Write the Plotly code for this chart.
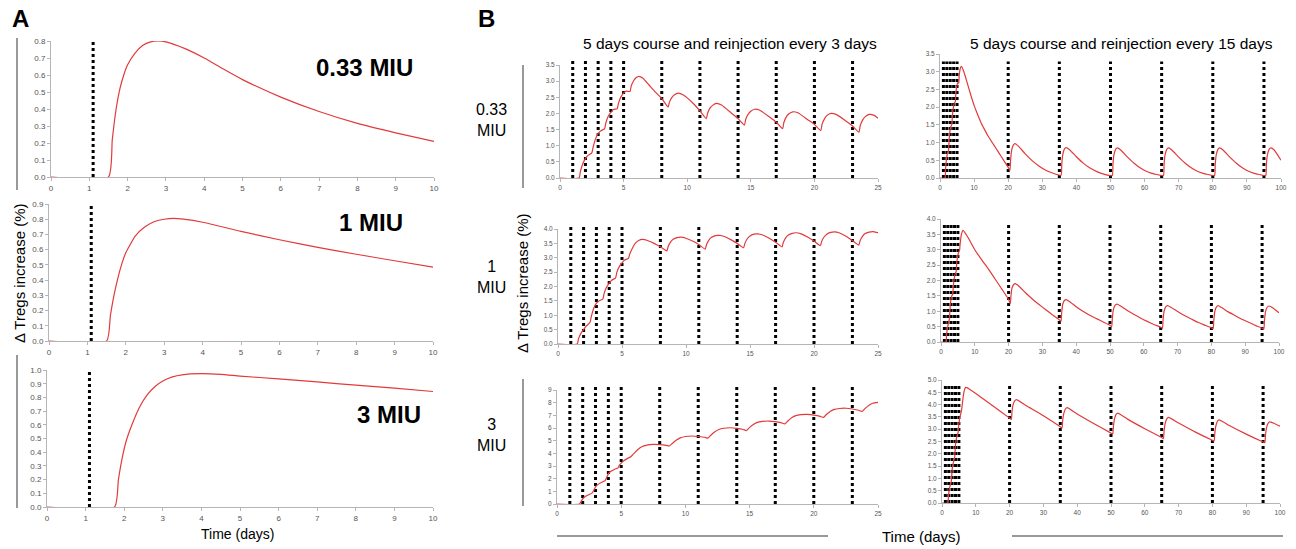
import plotly.graph_objects as go

W, H = 1296, 549

# ---------- panel A : single injection ----------
a_injection = [1.1]

a_days_033 = [0, 1.5, 1.6, 1.7, 1.8, 1.9, 2.0, 2.2, 2.4, 2.6, 2.8, 3.0, 3.5, 4, 4.5, 5, 6, 7, 8, 9, 10]
a_tregs_033 = [0, 0, 0.22, 0.4, 0.52, 0.6, 0.66, 0.73, 0.775, 0.795, 0.80, 0.795, 0.755, 0.70, 0.635, 0.573, 0.47, 0.385, 0.315, 0.26, 0.21]

a_days_1 = [0, 1.5, 1.6, 1.7, 1.8, 1.9, 2.0, 2.25, 2.5, 2.75, 3.0, 3.25, 3.5, 4, 5, 6, 7, 8, 9, 10]
a_tregs_1 = [0, 0, 0.17, 0.31, 0.42, 0.51, 0.58, 0.69, 0.75, 0.785, 0.80, 0.805, 0.80, 0.78, 0.72, 0.665, 0.615, 0.57, 0.527, 0.485]

a_days_3 = [0, 1.75, 1.85, 1.95, 2.05, 2.2, 2.4, 2.6, 2.8, 3.0, 3.25, 3.5, 4, 4.5, 5, 6, 7, 8, 9, 10]
a_tregs_3 = [0, 0, 0.2, 0.36, 0.48, 0.6, 0.73, 0.82, 0.88, 0.92, 0.95, 0.965, 0.973, 0.968, 0.956, 0.935, 0.913, 0.889, 0.867, 0.843]

# ---------- panel B : injection schedules ----------
b_inj_3days = [1, 2, 3, 4, 5, 8, 11, 14, 17, 20, 23]
b_inj_15days = [1, 2, 3, 4, 5, 20, 35, 50, 65, 80, 95]

b3_days_033 = [0, 1.5, 1.6, 1.8, 2.0, 2.2, 2.5, 2.6, 2.8, 3.0, 3.2, 3.5, 3.6, 3.8, 4.0, 4.2, 4.5, 4.6, 4.8, 5.0, 5.2, 5.5,
               5.6, 5.8, 6.0, 6.2, 6.5, 7.0, 7.5, 8.0, 8.5, 8.6, 8.8, 9.0, 9.3, 9.7, 10.5, 11.0, 11.5,
               11.6, 11.8, 12.0, 12.3, 12.7, 13.5, 14.0, 14.5, 14.6, 14.8, 15.0, 15.3, 15.7, 16.5, 17.0, 17.5,
               17.6, 17.8, 18.0, 18.3, 18.7, 19.5, 20.0, 20.5, 20.6, 20.8, 21.0, 21.3, 21.7, 22.5, 23.0, 23.5,
               23.6, 23.8, 24.0, 24.3, 24.7, 25.0]
b3_tregs_033 = [0, 0, 0.2, 0.45, 0.6, 0.7, 0.78, 0.95, 1.22, 1.38, 1.46, 1.52, 1.7, 1.92, 2.03, 2.12, 2.15, 2.32, 2.52, 2.63, 2.69, 2.68,
                2.85, 3.02, 3.11, 3.15, 3.1, 2.88, 2.66, 2.46, 2.2, 2.35, 2.5, 2.58, 2.63, 2.57, 2.3, 2.08, 1.84,
                2.0, 2.17, 2.25, 2.31, 2.26, 2.0, 1.84, 1.64, 1.82, 1.98, 2.07, 2.13, 2.1, 1.88, 1.73, 1.53,
                1.72, 1.9, 1.99, 2.05, 2.02, 1.8, 1.66, 1.47, 1.66, 1.84, 1.94, 2.0, 1.97, 1.76, 1.61, 1.42,
                1.62, 1.8, 1.9, 1.97, 1.94, 1.85]

b3_days_1 = [0, 1.5, 1.6, 1.8, 2.0, 2.2, 2.5, 2.6, 2.8, 3.0, 3.2, 3.5, 3.6, 3.8, 4.0, 4.2, 4.5, 4.6, 4.8, 5.0, 5.2, 5.5,
             5.6, 5.8, 6.0, 6.3, 6.6, 7.0, 7.5, 8.0, 8.5, 8.6, 8.8, 9.0, 9.3, 9.6, 10.0, 10.5, 11.0, 11.5,
             11.6, 11.8, 12.0, 12.3, 12.6, 13.0, 13.5, 14.0, 14.5, 14.6, 14.8, 15.0, 15.3, 15.6, 16.0, 16.5, 17.0, 17.5,
             17.6, 17.8, 18.0, 18.3, 18.6, 19.0, 19.5, 20.0, 20.5, 20.6, 20.8, 21.0, 21.3, 21.6, 22.0, 22.5, 23.0, 23.5,
             23.6, 23.8, 24.0, 24.3, 24.6, 25.0]
b3_tregs_1 = [0, 0, 0.18, 0.38, 0.5, 0.62, 0.75, 0.95, 1.25, 1.42, 1.5, 1.56, 1.75, 1.98, 2.12, 2.22, 2.3, 2.5, 2.7, 2.82, 2.92, 2.98,
              3.12, 3.32, 3.48, 3.6, 3.64, 3.6, 3.5, 3.38, 3.24, 3.38, 3.55, 3.64, 3.7, 3.72, 3.68, 3.58, 3.46, 3.3,
              3.45, 3.62, 3.71, 3.77, 3.78, 3.74, 3.63, 3.5, 3.35, 3.5, 3.67, 3.76, 3.82, 3.83, 3.79, 3.68, 3.54, 3.38,
              3.53, 3.7, 3.79, 3.85, 3.87, 3.83, 3.72, 3.58, 3.42, 3.57, 3.73, 3.82, 3.88, 3.9, 3.86, 3.75, 3.6, 3.44,
              3.59, 3.75, 3.84, 3.89, 3.91, 3.87]

b3_days_3 = [0, 1.75, 1.9, 2.0, 2.2, 2.5, 2.75, 2.85, 3.0, 3.2, 3.5, 3.75, 3.85, 4.0, 4.2, 4.5, 4.75, 4.85, 5.0, 5.2, 5.5, 5.75,
             6.0, 6.3, 6.6, 7.0, 7.5, 8.0, 8.5, 8.75, 9.0, 9.3, 9.6, 10.0, 10.5, 11.0, 11.5, 11.75,
             12.0, 12.3, 12.6, 13.0, 13.5, 14.0, 14.5, 14.75, 15.0, 15.3, 15.6, 16.0, 16.5, 17.0, 17.5, 17.75,
             18.0, 18.3, 18.6, 19.0, 19.5, 20.0, 20.5, 20.75, 21.0, 21.3, 21.6, 22.0, 22.5, 23.0, 23.5, 23.75,
             24.0, 24.3, 24.6, 25.0]
b3_tregs_3 = [0, 0, 0.25, 0.4, 0.6, 0.75, 0.88, 1.05, 1.35, 1.55, 1.72, 1.85, 2.05, 2.38, 2.58, 2.75, 2.85, 3.05, 3.22, 3.42, 3.6, 3.73,
              4.0, 4.3, 4.52, 4.65, 4.7, 4.68, 4.63, 4.58, 4.8, 5.05, 5.22, 5.33, 5.37, 5.33, 5.27, 5.2,
              5.45, 5.7, 5.88, 5.98, 6.02, 5.97, 5.88, 5.8, 6.05, 6.28, 6.44, 6.52, 6.55, 6.5, 6.4, 6.33,
              6.57, 6.82, 6.98, 7.05, 7.07, 7.02, 6.92, 6.84, 7.08, 7.32, 7.47, 7.54, 7.56, 7.5, 7.4, 7.31,
              7.55, 7.8, 7.95, 8.02]

b15_days_033 = [0, 1.5, 1.6, 1.8, 2.0, 2.2, 2.5, 2.6, 2.8, 3.0, 3.2, 3.5, 3.6, 3.8, 4.0, 4.2, 4.5, 4.6, 4.8, 5.0, 5.2, 5.5,
                5.6, 5.8, 6.0, 6.3, 7, 8, 9, 10, 11, 12, 13, 14, 15, 16, 17, 18, 19, 20, 20.5,
                20.7, 21, 21.5, 22, 23, 25, 27, 29, 31, 33, 35.5,
                35.7, 36, 36.5, 37, 38, 40, 42, 44, 46, 48, 50.5,
                50.7, 51, 51.5, 52, 53, 55, 57, 59, 61, 63, 65.5,
                65.7, 66, 66.5, 67, 68, 70, 72, 74, 76, 78, 80.5,
                80.7, 81, 81.5, 82, 83, 85, 87, 89, 91, 93, 95.5,
                95.7, 96, 96.5, 97, 98, 100]
b15_tregs_033 = [0, 0, 0.2, 0.45, 0.6, 0.7, 0.78, 0.95, 1.22, 1.38, 1.46, 1.52, 1.7, 1.92, 2.03, 2.12, 2.15, 2.32, 2.52, 2.63, 2.69, 2.68,
                 2.85, 3.02, 3.11, 3.15, 3.0, 2.68, 2.35, 2.05, 1.8, 1.57, 1.38, 1.2, 1.05, 0.9, 0.75, 0.6, 0.45, 0.3, 0.22,
                 0.5, 0.78, 0.93, 0.97, 0.9, 0.68, 0.49, 0.34, 0.22, 0.14, 0.08,
                 0.38, 0.66, 0.82, 0.86, 0.8, 0.6, 0.42, 0.28, 0.18, 0.11, 0.07,
                 0.37, 0.65, 0.81, 0.85, 0.79, 0.59, 0.41, 0.27, 0.17, 0.11, 0.07,
                 0.37, 0.65, 0.81, 0.85, 0.79, 0.59, 0.41, 0.27, 0.17, 0.11, 0.07,
                 0.37, 0.65, 0.81, 0.85, 0.79, 0.59, 0.41, 0.27, 0.17, 0.11, 0.07,
                 0.37, 0.65, 0.81, 0.85, 0.79, 0.5]

b15_days_1 = [0, 1.5, 1.6, 1.8, 2.0, 2.2, 2.5, 2.6, 2.8, 3.0, 3.2, 3.5, 3.6, 3.8, 4.0, 4.2, 4.5, 4.6, 4.8, 5.0, 5.2, 5.5,
              5.6, 5.8, 6.0, 6.5, 8, 10, 12, 14, 16, 18, 20, 20.5,
              20.7, 21, 21.5, 22, 23, 25, 27, 29, 31, 33, 35, 35.5,
              35.7, 36, 36.5, 37, 38, 40, 42, 44, 46, 48, 50, 50.5,
              50.7, 51, 51.5, 52, 53, 55, 57, 59, 61, 63, 65, 65.5,
              65.7, 66, 66.5, 67, 68, 70, 72, 74, 76, 78, 80, 80.5,
              80.7, 81, 81.5, 82, 83, 85, 87, 89, 91, 93, 95, 95.5,
              95.7, 96, 96.5, 97, 98, 100]
b15_tregs_1 = [0, 0, 0.18, 0.38, 0.5, 0.62, 0.75, 0.95, 1.25, 1.42, 1.5, 1.56, 1.75, 1.98, 2.12, 2.22, 2.3, 2.5, 2.7, 2.82, 2.92, 2.98,
               3.12, 3.32, 3.48, 3.63, 3.4, 3.0, 2.68, 2.38, 2.05, 1.72, 1.38, 1.25,
               1.5, 1.75, 1.87, 1.9, 1.82, 1.6, 1.4, 1.22, 1.05, 0.88, 0.72, 0.68,
               0.95, 1.22, 1.35, 1.38, 1.32, 1.15, 1.0, 0.87, 0.76, 0.65, 0.54, 0.5,
               0.78, 1.05, 1.19, 1.23, 1.18, 1.03, 0.9, 0.78, 0.67, 0.57, 0.48, 0.45,
               0.72, 1.0, 1.14, 1.18, 1.13, 0.99, 0.86, 0.75, 0.64, 0.55, 0.46, 0.43,
               0.7, 0.99, 1.14, 1.18, 1.12, 0.98, 0.86, 0.74, 0.64, 0.54, 0.45, 0.42,
               0.7, 0.98, 1.13, 1.17, 1.12, 0.95]

b15_days_3 = [0, 1.75, 1.9, 2.0, 2.2, 2.5, 2.75, 2.85, 3.0, 3.2, 3.5, 3.75, 3.85, 4.0, 4.2, 4.5, 4.75, 4.85, 5.0, 5.2, 5.5, 5.75,
              6.0, 6.3, 6.6, 7.0, 7.5, 10, 15, 20, 20.5,
              20.7, 21, 21.5, 22, 25, 30, 35, 35.5,
              35.7, 36, 36.5, 37, 40, 45, 50, 50.5,
              50.7, 51, 51.5, 52, 55, 60, 65, 65.5,
              65.7, 66, 66.5, 67, 70, 75, 80, 80.5,
              80.7, 81, 81.5, 82, 85, 90, 95, 95.5,
              95.7, 96, 96.5, 97, 98, 100]
b15_tregs_3 = [0, 0, 0.25, 0.4, 0.6, 0.75, 0.88, 1.05, 1.35, 1.55, 1.72, 1.85, 2.05, 2.38, 2.58, 2.75, 2.85, 3.05, 3.22, 3.42, 3.6, 3.73,
               4.0, 4.35, 4.58, 4.7, 4.68, 4.45, 3.95, 3.45, 3.4,
               3.7, 3.98, 4.15, 4.2, 3.95, 3.55, 3.1, 3.05,
               3.35, 3.62, 3.82, 3.88, 3.62, 3.22, 2.84, 2.8,
               3.1, 3.4, 3.6, 3.65, 3.4, 3.02, 2.66, 2.62,
               2.92, 3.22, 3.42, 3.48, 3.25, 2.88, 2.55, 2.52,
               2.82, 3.12, 3.33, 3.38, 3.15, 2.8, 2.48, 2.45,
               2.75, 3.05, 3.25, 3.3, 3.25, 3.12]

RED = "#e23a3a"
AXIS = "#b5b5b5"
TICKTXT = "#555555"
FONT = "Liberation Sans, Arial, sans-serif"

# pixel boxes: (x of first tick, x of last tick, y of zero, y of top tick)
panels = [
    dict(x=a_days_033, y=a_tregs_033, inj=a_injection, box=(51, 434, 177, 41), xr=10, dx=1, yr=0.8, dy=0.1, fmt=".1f", fs=8, top=1.0),
    dict(x=a_days_1, y=a_tregs_1, inj=a_injection, box=(49, 433, 341, 204), xr=10, dx=1, yr=0.9, dy=0.1, fmt=".1f", fs=8, top=1.0),
    dict(x=a_days_3, y=a_tregs_3, inj=a_injection, box=(47, 433, 507, 370), xr=10, dx=1, yr=1.0, dy=0.1, fmt=".1f", fs=8, top=1.0),
    dict(x=b3_days_033, y=b3_tregs_033, inj=b_inj_3days, box=(560, 878, 178, 65), xr=25, dx=5, yr=3.5, dy=0.5, fmt=".1f", fs=6.5, top=1.04),
    dict(x=b3_days_1, y=b3_tregs_1, inj=b_inj_3days, box=(558, 878, 344, 229), xr=25, dx=5, yr=4.0, dy=0.5, fmt=".1f", fs=6.5, top=1.02),
    dict(x=b3_days_3, y=b3_tregs_3, inj=b_inj_3days, box=(557, 878, 504, 390), xr=25, dx=5, yr=9, dy=1, fmt="d", fs=6.5, top=1.03),
    dict(x=b15_days_033, y=b15_tregs_033, inj=b_inj_15days, box=(940, 1281, 178, 54), xr=100, dx=10, yr=3.5, dy=0.5, fmt=".1f", fs=6.5, top=0.94),
    dict(x=b15_days_1, y=b15_tregs_1, inj=b_inj_15days, box=(941, 1279, 342, 219), xr=100, dx=10, yr=4.0, dy=0.5, fmt=".1f", fs=6.5, top=0.96),
    dict(x=b15_days_3, y=b15_tregs_3, inj=b_inj_15days, box=(942, 1280, 503, 380), xr=100, dx=10, yr=5.0, dy=0.5, fmt=".1f", fs=6.5, top=0.97),
]

fig = go.Figure()
layout = {}
shapes = []

for i, p in enumerate(panels, start=1):
    sfx = "" if i == 1 else str(i)
    x0, x1, y0, y1 = p["box"]
    fig.add_trace(go.Scatter(
        x=p["x"], y=p["y"], mode="lines",
        line=dict(color=RED, width=1.2, shape="spline", smoothing=0.5),
        xaxis="x" + sfx, yaxis="y" + sfx, showlegend=False, hoverinfo="skip"))
    common = dict(showgrid=False, zeroline=False, showline=True, linecolor=AXIS, linewidth=1,
                  ticks="outside", ticklen=3, tickcolor=AXIS, fixedrange=True, automargin=False,
                  tickfont=dict(size=p["fs"], color=TICKTXT, family=FONT))
    layout["xaxis" + sfx] = dict(common, domain=[x0 / W, x1 / W], range=[0, p["xr"]], dtick=p["dx"], tick0=0,
                                 anchor="y" + sfx)
    layout["yaxis" + sfx] = dict(common, domain=[1 - y0 / H, 1 - y1 / H], range=[0, p["yr"]], dtick=p["dy"], tick0=0,
                                 tickformat=p["fmt"], anchor="x" + sfx)
    for t in p["inj"]:
        shapes.append(dict(type="line", xref="x" + sfx, yref="y" + sfx + " domain", x0=t, x1=t, y0=0, y1=p["top"],
                           line=dict(color="black", width=3, dash="dot"), layer="below"))

def hline(xa, xb, y):
    shapes.append(dict(type="line", xref="paper", yref="paper", x0=xa / W, x1=xb / W, y0=1 - y / H, y1=1 - y / H,
                       line=dict(color="#777777", width=1.3)))

def vline(x, ya, yb):
    shapes.append(dict(type="line", xref="paper", yref="paper", x0=x / W, x1=x / W, y0=1 - ya / H, y1=1 - yb / H,
                       line=dict(color="#777777", width=1.5)))

vline(17, 38, 190)
vline(17, 355, 508)
vline(523, 65, 188)
vline(523, 379, 506)
hline(557, 828, 536)
hline(1012, 1283, 536)

def label(txt, x, y, size, angle=0, bold=False):
    return dict(text="<b>" + txt + "</b>" if bold else txt, x=x / W, y=1 - y / H, xref="paper", yref="paper",
                showarrow=False, textangle=angle, xanchor="center", yanchor="middle",
                font=dict(size=size, color="black", family=FONT))

annotations = [
    label("A", 20, 18, 24, bold=True),
    label("B", 486, 19, 24, bold=True),
    label("0.33 MIU", 365, 67, 24, bold=True),
    label("1 MIU", 371, 223, 24, bold=True),
    label("3 MIU", 389, 414, 24, bold=True),
    label("Δ Tregs increase (%)", 19, 273, 15, angle=-90),
    label("Time (days)", 237, 534, 14),
    label("5 days course and reinjection every 3 days", 730, 43, 15.5),
    label("5 days course and reinjection every 15 days", 1121, 43, 15.5),
    label("0.33<br>MIU", 491, 120, 16),
    label("1<br>MIU", 491, 277, 16),
    label("3<br>MIU", 491, 435, 16),
    label("Δ Tregs increase (%)", 522, 283, 15, angle=-90),
    label("Time (days)", 921, 536, 15),
]

fig.update_layout(
    template="none",
    width=W, height=H,
    margin=dict(l=0, r=0, t=0, b=0, pad=0, autoexpand=False),
    paper_bgcolor="white", plot_bgcolor="white",
    font=dict(family=FONT),
    shapes=shapes, annotations=annotations,
    **layout)

# the page body has a default 8px margin; drop it so the figure sits at the window corner
fig.write_html("out.html", config={"displayModeBar": False},
               post_script="document.body.style.margin='0';document.body.style.overflow='hidden';")
